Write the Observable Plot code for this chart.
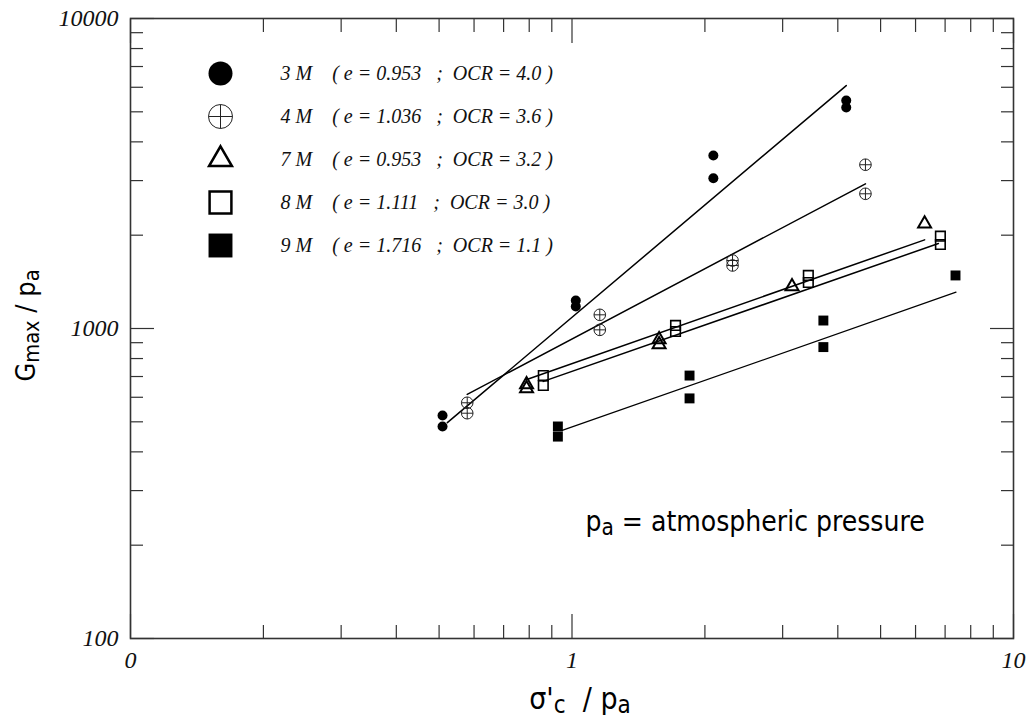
<!DOCTYPE html>
<html><head><meta charset="utf-8">
<script src="https://cdn.jsdelivr.net/npm/d3@7"></script>
<script src="https://cdn.jsdelivr.net/npm/@observablehq/plot@0.6"></script>
<style>
body{margin:0;background:#fff;}
svg text{white-space:pre;}
</style></head><body><div id="chart"></div>
<script>
// ---- data ----
const seriesNames = ["3 M", "4 M", "7 M", "8 M", "9 M"];
const legendLabels = [
  "3 M    ( e = 0.953   ;  OCR = 4.0 )",
  "4 M    ( e = 1.036   ;  OCR = 3.6 )",
  "7 M    ( e = 0.953   ;  OCR = 3.2 )",
  "8 M    ( e = 1.111   ;  OCR = 3.0 )",
  "9 M    ( e = 1.716   ;  OCR = 1.1 )"
];
const x3M = [0.509, 0.509, 1.02, 1.02, 2.09, 2.09, 4.18, 4.18];
const y3M = [524, 483, 1231, 1178, 3615, 3053, 5440, 5163];
const x4M = [0.579, 0.579, 1.156, 1.156, 2.31, 2.31, 4.62, 4.62];
const y4M = [576, 533, 1107, 990, 1657, 1597, 3375, 2720];
const x7M = [0.789, 0.789, 1.575, 1.575, 3.15, 6.29];
const y7M = [660, 640, 921, 888, 1366, 2176];
const x8M = [0.861, 0.861, 1.716, 1.716, 3.43, 3.43, 6.83, 6.83];
const y8M = [705, 655, 1023, 978, 1483, 1407, 1985, 1866];
const x9M = [0.929, 0.929, 1.846, 1.846, 3.71, 3.71, 7.39];
const y9M = [483, 448, 705, 595, 1061, 871, 1483];
// fitted lines (end points)
const fit3Mx = [0.522, 4.18], fit3My = [497, 6077];
const fit4Mx = [0.579, 4.62], fit4My = [613, 2929];
const fit7Mx = [0.79, 6.29],  fit7My = [685, 1932];
const fit8Mx = [0.861, 6.76], fit8My = [675, 1880];
const fit9Mx = [0.95, 7.41],  fit9My = [469, 1310];
// axes
const xTickValues = [0.1, 1, 10];
const xTickLabels = ["0", "1", "10"];
const yTickValues = [100, 1000, 10000];
const yTickLabels = ["100", "1000", "10000"];
const xMinor = [0.2,0.3,0.4,0.5,0.6,0.7,0.8,0.9,2,3,4,5,6,7,8,9];
const yMinor = [200,300,400,500,600,700,800,900,2000,3000,4000,5000,6000,7000,8000,9000];
const xTitle = "σ'_{c}  / p_{a}";
const yTitle = "G_{max} / p_{a}";
const note = "p_{a} = atmospheric pressure";

// ---- styles ----
const sansFont = "'DejaVu Sans Condensed', 'DejaVu Sans', sans-serif";
const serifFont = "'Liberation Serif', 'DejaVu Serif', serif";
const crossCircle = {
  draw(ctx, size) {
    const r = Math.sqrt(size / Math.PI);
    ctx.moveTo(r, 0); ctx.arc(0, 0, r, 0, 2 * Math.PI);
    ctx.moveTo(-r, 0); ctx.lineTo(r, 0);
    ctx.moveTo(0, -r); ctx.lineTo(0, r);
  }
};
const styles = [
  {data: [x3M, y3M], fit: [fit3Mx, fit3My], symbol: "circle", fill: "black", stroke: "none", sw: 0, r: 5, lr: 12, lsw: 0, lineW: 1.5},
  {data: [x4M, y4M], fit: [fit4Mx, fit4My], symbol: crossCircle, fill: "none", stroke: "#222", sw: 1, r: 5.8, lr: 12, lsw: 1, lineW: 1.5},
  {data: [x7M, y7M], fit: [fit7Mx, fit7My], symbol: "triangle", fill: "none", stroke: "black", sw: 2, r: 4.8, lr: 8.5, lsw: 2.5, lineW: 1.5},
  {data: [x8M, y8M], fit: [fit8Mx, fit8My], symbol: "square", fill: "none", stroke: "black", sw: 1.6, r: 5.4, lr: 12.3, lsw: 2.5, lineW: 1.5},
  {data: [x9M, y9M], fit: [fit9Mx, fit9My], symbol: "square", fill: "black", stroke: "none", sw: 0, r: 5.6, lr: 13.5, lsw: 0, lineW: 1.2}
];

const axisCommon = {stroke: "#333", strokeWidth: 1.2, tickFormat: () => "", label: null};
const tickText = {fontSize: 24, fontFamily: serifFont, fontStyle: "italic", fill: "#111"};
const marks = [
  Plot.frame({stroke: "#333", strokeWidth: 1.6}),
  Plot.axisX({...axisCommon, anchor: "bottom", ticks: xMinor, tickSize: -13}),
  Plot.axisX({...axisCommon, anchor: "top", ticks: xMinor, tickSize: -13}),
  Plot.axisX({...axisCommon, anchor: "bottom", ticks: xTickValues, tickSize: -24}),
  Plot.axisX({...axisCommon, anchor: "top", ticks: xTickValues, tickSize: -24}),
  Plot.axisY({...axisCommon, anchor: "left", ticks: yMinor, tickSize: -13}),
  Plot.axisY({...axisCommon, anchor: "right", ticks: yMinor, tickSize: -13}),
  Plot.axisY({...axisCommon, anchor: "left", ticks: yTickValues, tickSize: -24}),
  Plot.axisY({...axisCommon, anchor: "right", ticks: yTickValues, tickSize: -24}),
  Plot.text(xTickValues, {x: d => d, frameAnchor: "bottom", text: (d, i) => xTickLabels[i], dy: 12, lineAnchor: "top", textAnchor: "middle", ...tickText}),
  Plot.text(yTickValues, {y: d => d, frameAnchor: "left", text: (d, i) => yTickLabels[i], dx: -12, lineAnchor: "middle", textAnchor: "end", ...tickText})
];
styles.forEach(s => {
  marks.push(Plot.line(d3.zip(s.fit[0], s.fit[1]), {x: d => d[0], y: d => d[1], stroke: "black", strokeWidth: s.lineW}));
});
styles.forEach(s => {
  marks.push(Plot.dot(d3.zip(s.data[0], s.data[1]), {x: d => d[0], y: d => d[1], symbol: s.symbol, r: s.r, fill: s.fill, stroke: s.stroke, strokeWidth: s.sw}));
});
styles.forEach((s, i) => {
  marks.push(Plot.dot([seriesNames[i]], {frameAnchor: "top-left", dx: 90, dy: 55 + 43 * i, symbol: s.symbol, r: s.lr, fill: s.fill, stroke: s.stroke, strokeWidth: s.lsw}));
  marks.push(Plot.text([legendLabels[i]], {text: d => d, frameAnchor: "top-left", dx: 150, dy: 55 + 43 * i, textAnchor: "start", lineAnchor: "middle",
    fontFamily: serifFont, fontStyle: "italic", fontSize: 20, fill: "#111"}));
});
marks.push(Plot.text([note], {text: d => d, frameAnchor: "top-left", dx: 455, dy: 512, textAnchor: "start", lineAnchor: "bottom", fontFamily: sansFont, fontSize: 28, fill: "black"}));
marks.push(Plot.text([xTitle], {text: d => d, frameAnchor: "bottom", dx: 8, dy: 70, textAnchor: "middle", lineAnchor: "bottom", fontFamily: sansFont, fontSize: 30, fill: "black"}));
marks.push(Plot.text([yTitle], {text: d => d, frameAnchor: "left", dx: -96, dy: -3, rotate: -90, textAnchor: "middle", lineAnchor: "bottom", fontFamily: sansFont, fontSize: 27, fill: "black"}));

const chart = Plot.plot({
  width: 1026, height: 719,
  marginLeft: 130, marginRight: 13, marginTop: 18, marginBottom: 81,
  x: {type: "log", domain: [0.1, 10]},
  y: {type: "log", domain: [100, 10000]},
  style: {background: "white", overflow: "visible"},
  marks
});

function renderSubscripts(svg, shift) {
  svg.querySelectorAll("text").forEach(t => {
    const s = t.textContent;
    if (!s.includes("_{")) return;
    t.textContent = "";
    const re = /_\{([^}]*)\}/g;
    let last = 0, m, lowered = false;
    const add = (str, sub) => {
      if (!str) return;
      const ts = document.createElementNS("http://www.w3.org/2000/svg", "tspan");
      ts.textContent = str;
      if (sub && !lowered) { ts.setAttribute("dy", shift); lowered = true; }
      else if (!sub && lowered) { ts.setAttribute("dy", -shift); lowered = false; }
      if (sub) ts.setAttribute("style", "font-size:0.8em");
      t.appendChild(ts);
    };
    while ((m = re.exec(s))) { add(s.slice(last, m.index), false); add(m[1], true); last = re.lastIndex; }
    add(s.slice(last), false);
  });
}
renderSubscripts(chart, 4);
document.getElementById("chart").appendChild(chart);
</script></body></html>
